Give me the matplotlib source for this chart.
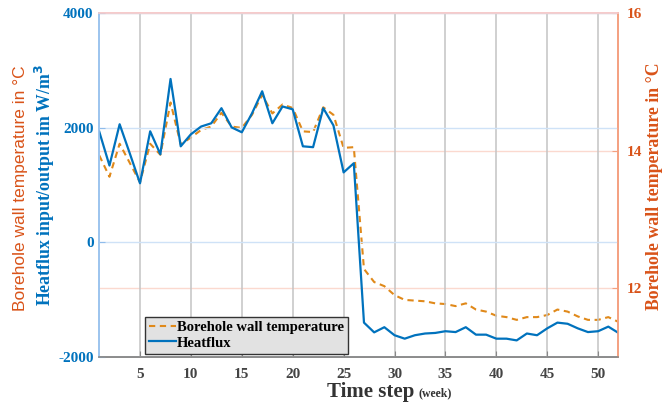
import numpy as np
import matplotlib
matplotlib.use('Agg')
import matplotlib.pyplot as plt
from matplotlib.lines import Line2D

plt.rcParams['axes.unicode_minus'] = False

weeks = np.arange(1, 53)

heatflux = [1930, 1340, 2060, 1550, 1030, 1937, 1536, 2850, 1675, 1885,
            2020, 2077, 2340, 2005, 1920, 2250, 2635, 2077, 2370, 2320,
            1675, 1660, 2340, 2040, 1220, 1380, -1400, -1570, -1480, -1620,
            -1680, -1620, -1590, -1580, -1550, -1565, -1480, -1610, -1610, -1680,
            -1680, -1710, -1590, -1620, -1500, -1400, -1420, -1500, -1565, -1550,
            -1470, -1580]

wall_temp = [13.93, 13.62, 14.10, 13.82, 13.54, 14.10, 13.94, 14.70, 14.09, 14.19,
             14.30, 14.35, 14.55, 14.35, 14.33, 14.52, 14.81, 14.54, 14.67, 14.62,
             14.28, 14.27, 14.63, 14.52, 14.04, 14.05, 12.28, 12.09, 12.03, 11.90,
             11.83, 11.82, 11.81, 11.78, 11.77, 11.74, 11.78, 11.69, 11.66, 11.60,
             11.58, 11.54, 11.58, 11.58, 11.61, 11.69, 11.66, 11.59, 11.54, 11.54,
             11.58, 11.51]

xticks = [5, 10, 15, 20, 25, 30, 35, 40, 45, 50]
left_ticks = [-2000, 0, 2000, 4000]
right_ticks = [12, 14, 16]

blue = '#0072BD'
orange = '#D95319'
dash_orange = '#E0891A'
serif = 'Liberation Serif'

fig = plt.figure(figsize=(6.69, 4.03), dpi=100)
ax1 = fig.add_axes([0.1484, 0.1141, 0.7761, 0.8536])
ax2 = ax1.twinx()
ax1.set_zorder(ax2.get_zorder() + 1)
ax1.patch.set_visible(False)

ax2.plot(weeks, wall_temp, color=dash_orange, lw=1.5, linestyle=(0, (3, 2.2)))
ax1.plot(weeks, heatflux, color=blue, lw=1.6)

ax1.set_xlim(1, 52)
ax1.set_ylim(-2000, 4000)
ax2.set_ylim(11, 16)

ax1.set_xticks(xticks)
ax1.set_yticks(left_ticks)
ax2.set_yticks(right_ticks)

ax1.grid(axis='x', color='#C4C4C4', lw=1.1)
ax1.grid(axis='y', color='#CFE2F7', lw=1.0)
ax2.grid(axis='y', color='#FBD9CF', lw=1.0)
ax2.set_axisbelow(True)

for lab in ax1.get_xticklabels():
    lab.set_fontfamily(serif)
    lab.set_fontweight('bold')
    lab.set_color('#444444')
for lab in ax1.get_yticklabels():
    lab.set_fontfamily(serif)
    lab.set_fontweight('bold')
    lab.set_color(blue)
for lab in ax2.get_yticklabels():
    lab.set_fontfamily(serif)
    lab.set_fontweight('bold')
    lab.set_color(orange)

ax1.tick_params(axis='x', direction='in', length=4, labelsize=11, color='#888888', pad=8)
ax1.tick_params(axis='y', direction='in', length=4, labelsize=11, color='#8FBCEB', pad=4)
ax2.tick_params(axis='y', direction='in', length=4, labelsize=11, color='#F4A080', pad=6)

for ax in (ax1, ax2):
    ax.spines['top'].set_color('#F6CACA')
    ax.spines['left'].set_color('#9CC4EE')
    ax.spines['right'].set_color('#F4A080')
    ax.spines['bottom'].set_color('#8A8A8A')
    for s in ax.spines.values():
        s.set_linewidth(1.2)

# axis titles placed by hand, as in the original figure
fig.text(0.067, 0.541, 'Heatflux input/output im W/m$^\\mathbf{3}$', rotation=90,
         color=blue, fontfamily=serif, fontweight='bold', fontsize=12.8,
         ha='center', va='center')
fig.text(0.979, 0.538, 'Borehole wall temperature in \u00b0C', rotation=90,
         color=orange, fontfamily=serif, fontweight='bold', fontsize=12.8,
         ha='center', va='center')
fig.text(0.030, 0.533, 'Borehole wall temperature in \u00b0C', rotation=90,
         color=orange, fontfamily='Liberation Sans', fontsize=12.5,
         ha='center', va='center')

fig.text(0.619, 0.016, 'Time step', fontfamily=serif, fontweight='bold',
         fontsize=15, color='#333333', ha='right', va='baseline')
fig.text(0.625, 0.016, '(week)', fontfamily=serif, fontweight='bold',
         fontsize=8.5, color='#333333', ha='left', va='baseline')

handles = [Line2D([], [], color=dash_orange, lw=1.5, linestyle=(0, (3, 2.2))),
           Line2D([], [], color=blue, lw=1.6)]
leg = ax1.legend(handles, ['Borehole wall temperature', 'Heatflux'],
                 loc='lower left', bbox_to_anchor=(0.088, 0.009), borderaxespad=0,
                 frameon=True, fancybox=False, framealpha=1, handlelength=1.8,
                 handletextpad=0.1, borderpad=0.3, labelspacing=0.15,
                 prop={'family': serif, 'weight': 'bold', 'size': 10.5})
leg.get_frame().set_facecolor('#E2E2E2')
leg.get_frame().set_edgecolor('#333333')
leg.get_frame().set_linewidth(1.0)

fig.savefig('out.png', dpi=100)
